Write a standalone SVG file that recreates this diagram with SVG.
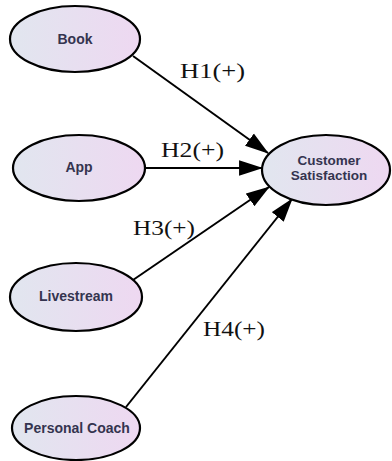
<svg xmlns="http://www.w3.org/2000/svg" width="392" height="461" viewBox="0 0 392 461">
<defs>
<linearGradient id="g" x1="0" y1="0" x2="1" y2="0">
<stop offset="0" stop-color="#e1e6ef"/>
<stop offset="1" stop-color="#eed8f1"/>
</linearGradient>
<marker id="arr" markerUnits="userSpaceOnUse" markerWidth="24" markerHeight="16" viewBox="0 0 22 14" refX="21" refY="7" orient="auto">
<path d="M0,0 L22,7 L0,14 Z" fill="#000"/>
</marker>
<style>
.node ellipse{fill:url(#g);stroke:#000;stroke-width:2.2}
.node text{font-family:"Liberation Sans",Arial,sans-serif;font-weight:bold;font-size:14px;fill:#34344f;text-anchor:middle}
.edge line{stroke:#000;stroke-width:2;marker-end:url(#arr)}
.lbl{font-family:"Liberation Serif","Times New Roman",serif;font-size:21px;fill:#111}
</style>
</defs>
<rect width="392" height="461" fill="#fff"/>
<g id="connectors" class="edge">
<line x1="133" y1="56" x2="268" y2="153"/>
<line x1="145" y1="168" x2="262" y2="168"/>
<line x1="133" y1="280" x2="269" y2="187"/>
<line x1="126" y1="407" x2="292" y2="199"/>
</g>
<g id="edge-labels">
<text class="lbl" x="180" y="78" textLength="65" lengthAdjust="spacingAndGlyphs">H1(+)</text>
<text class="lbl" x="161" y="157" textLength="63" lengthAdjust="spacingAndGlyphs">H2(+)</text>
<text class="lbl" x="133" y="235" textLength="62" lengthAdjust="spacingAndGlyphs">H3(+)</text>
<text class="lbl" x="203" y="336" textLength="62" lengthAdjust="spacingAndGlyphs">H4(+)</text>
</g>
<g id="book" class="node">
<ellipse cx="75" cy="39" rx="65" ry="33"/>
<text x="75" y="44">Book</text>
</g>
<g id="app" class="node">
<ellipse cx="79" cy="168" rx="66" ry="33"/>
<text x="79" y="172">App</text>
</g>
<g id="livestream" class="node">
<ellipse cx="76" cy="297" rx="66" ry="34"/>
<text x="76" y="301">Livestream</text>
</g>
<g id="personal-coach" class="node">
<ellipse cx="76" cy="428" rx="64" ry="32"/>
<text x="77" y="433">Personal Coach</text>
</g>
<g id="customer-satisfaction" class="node">
<ellipse cx="326" cy="170" rx="64" ry="35"/>
<text x="329" y="165" style="font-size:13.5px">Customer</text>
<text x="329" y="180" style="font-size:13.5px">Satisfaction</text>
</g>
</svg>
